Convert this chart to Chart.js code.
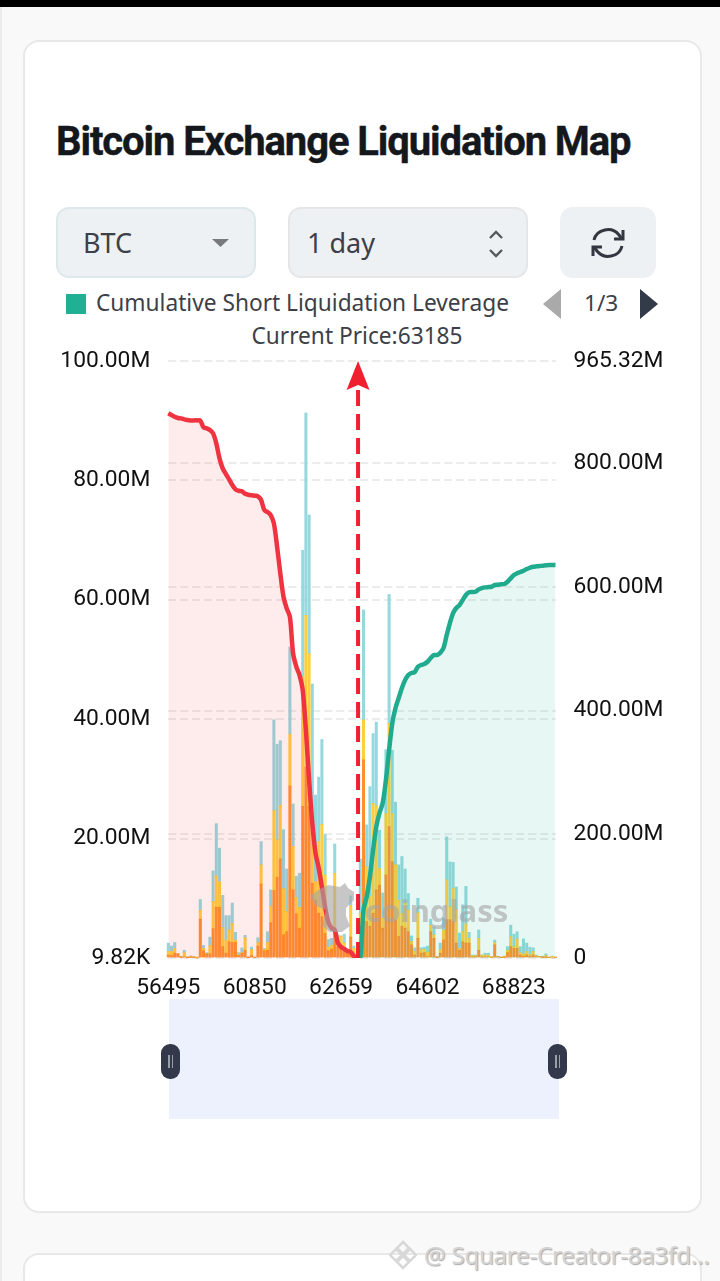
<!DOCTYPE html>
<html>
<head>
<meta charset="utf-8">
<title>Bitcoin Exchange Liquidation Map</title>
<script src="https://cdn.jsdelivr.net/npm/chart.js@4/dist/chart.umd.min.js"></script>
<style>
  html, body { margin: 0; padding: 0; }
  body { width: 720px; height: 1281px; position: relative; overflow: hidden; background: #f9f9f9; font-family: "Noto Sans", sans-serif; }
  .abs { position: absolute; }
  .topbar { left: 0; top: 0; width: 720px; height: 7px; background: #000; }
  .edge { left: 0; top: 7px; width: 2px; height: 1274px; background: #ececec; }
  .card { left: 23px; width: 675px; background: #fff; border: 2px solid #e8e8e8; border-radius: 16px; }
  h1 { position: absolute; left: 56px; top: 118px; margin: 0; font: 700 40px/48px Roboto, sans-serif; letter-spacing: -1.1px; -webkit-text-stroke: .4px #14181c; color: #14181c; white-space: nowrap; }
  .btn { background: #eef1f4; border-radius: 13px; box-sizing: border-box; top: 207px; height: 71px; font-size: 27px; line-height: 67px; color: #3c4048; }
  .legend-text { left: 96px; top: 288px; font-size: 22.7px; line-height: 30px; color: #3c4048; white-space: nowrap; }
  #chart { position: absolute; left: 0; top: 340px; }
  .slider { left: 169px; top: 999px; width: 390px; height: 120px; background: #edf1fd; }
  .handle { top: 1044px; width: 19px; height: 35px; background: #33384a; border-radius: 9px; }
  .handle i { position: absolute; top: 11px; width: 1.5px; height: 13px; background: #9a9ea8; }
  .wm { left: 365px; top: 888px; font: 700 31px/44px "Noto Sans", sans-serif; color: rgba(165,165,165,.62); }
  .footer { left: 424px; top: 1238px; font-size: 24px; line-height: 34px; color: #d4d4d4; text-shadow: 1px 1px 1px #aaa; white-space: nowrap; letter-spacing: -.2px; }
</style>
</head>
<body>
<div class="abs topbar"></div>
<div class="abs edge"></div>
<div class="abs card" style="top:40px;height:1169px"></div>
<div class="abs card" style="top:1253px;height:60px"></div>

<h1>Bitcoin Exchange Liquidation Map</h1>

<div class="abs btn" style="left:56px;width:200px;border:2px solid #dce8ec;padding-left:25px">BTC
  <svg class="abs" style="left:154px;top:30px" width="18" height="9"><path d="M0 0H17L8.500 8Z" fill="#77797d"/></svg>
</div>
<div class="abs btn" style="left:288px;width:240px;border:2px solid #e6e6e6;padding-left:17px">1 day
  <svg class="abs" style="left:198px;top:21px" width="18" height="28"><path d="M2 8L8 2L14 8M2 20L8 26L14 20" fill="none" stroke="#55585e" stroke-width="2.400"/></svg>
</div>
<div class="abs btn" style="left:560px;width:96px">
  <svg class="abs" style="left:30px;top:19px" width="36" height="34" viewBox="0 0 36 34" fill="none" stroke="#33373f" stroke-width="3">
    <path d="M4 14A14 13 0 0 1 29 9L32 13"/><path d="M32 20A14 13 0 0 1 7 25L4 21"/>
    <path d="M33 4V13H24M3 30V21H12"/>
  </svg>
</div>

<div class="abs" style="left:66px;top:294px;width:20px;height:20px;background:#20b093"></div>
<div class="abs legend-text">Cumulative Short Liquidation Leverage</div>
<svg class="abs" style="left:543px;top:289px" width="18" height="30"><path d="M18 0V30L0 15Z" fill="#aaaaaa"/></svg>
<div class="abs" style="left:584px;top:288px;font-size:22.6px;line-height:30px;color:#3c4048">1/3</div>
<svg class="abs" style="left:640px;top:289px" width="18" height="30"><path d="M0 0V30L18 15Z" fill="#333a48"/></svg>
<div class="abs" style="left:157px;width:400px;text-align:center;top:321px;font-size:22.7px;line-height:30px;color:#3c4048">Current Price:63185</div>

<canvas id="chart" width="720" height="660" style="width:720px;height:660px"></canvas>

<svg class="abs" style="left:308px;top:882px" width="48" height="56" viewBox="0 0 48 56">
  <path d="M2 14L10 8L20 3L32 5L37 1L40 6L46 10L46 18L38 26L38 34L42 44L34 50L22 50L14 44L16 36L18 28L8 24Z" fill="rgba(165,165,165,.62)"/>
</svg>
<div class="abs wm">coinglass</div>

<div class="abs slider"></div>
<div class="abs handle" style="left:161px"><i style="left:7px"></i><i style="left:10.500px"></i></div>
<div class="abs handle" style="left:548px"><i style="left:7px"></i><i style="left:10.500px"></i></div>

<svg class="abs" style="left:389px;top:1240px" width="28" height="30" viewBox="0 0 28 30" fill="none" stroke="#d8d8d8" stroke-width="2.500">
  <path d="M14 2L20 8L14 14L8 8ZM7 9L13 15L7 21L1 15ZM21 9L27 15L21 21L15 15ZM14 16L20 22L14 28L8 22Z"/>
</svg>
<div class="abs footer">@ Square-Creator-8a3fd...</div>

<script>
const tickLabels = ["56495", "60850", "62659", "64602", "68823"];
const tickStep = 27;
const leftTicks = [0, 20, 40, 60, 80, 100];
const leftLabels = ["9.82K", "20.00M", "40.00M", "60.00M", "80.00M", "100.00M"];
const rightTicks = [0, 200, 400, 600, 800, 965.32];
const rightLabels = ["0", "200.00M", "400.00M", "600.00M", "800.00M", "965.32M"];
const currentPriceSlot = 59.3;

// liquidation leverage per price bucket, in millions
const orangeValues = [
  0.5, 0.4, 0.8, 0.7, 0.1, 0.2, 0.05, 0.1, 0.1, 0, 6.5, 1.2, 0.7, 0.7, 4.9, 8.5, 8.5, 1.9, 0.8, 2.7,
  2.6, 2.6, 0.4, 0.8, 1.3, 0.05, 0.4, 0.1, 2.0, 12.4, 1.2, 1.3, 5.9, 11.3, 13.5, 16.6, 3.9, 4.4, 28.8, 11.4,
  7.4, 5.0, 25.4, 32.0, 25.4, 12.5, 9.7, 7.5, 6.9, 4.1, 1.2, 1.5, 4.7, 1.9, 1.6, 1.1, 0.8, 3.5, 0.5, 0.6,
  0.8, 33.2, 6.1, 5.3, 7.5, 11.4, 12.2, 5.0, 13.9, 22.0, 16.1, 6.4, 3.6, 5.3, 5.0, 4.4, 2.2, 0.5, 3.3, 0.8,
  0.9, 0.2, 4.4, 3.3, 0.1, 0.8, 3.0, 6.4, 6.4, 6.1, 2.5, 1.3, 2.7, 2.5, 2.5, 0.2, 0.2, 1.3, 0.2, 0.2,
  0.2, 0.1, 2.2, 0.2, 0.05, 0.1, 0.9, 1.9, 1.6, 1.6, 0.5, 0.3, 0.5, 0.3, 0.5, 0.2, 0.2, 0.1, 0.1, 0.1,
  0, 0.1
];
const yellowValues = [
  0.6, 0.7, 0.8, 0, 0.1, 0.7, 0.05, 0.2, 0.1, 0.05, 1.5, 0.4, 0, 1.4, 4.6, 5.3, 4.3, 3.2, 2.2, 2.0,
  3.2, 0.4, 0.1, 0.1, 2.1, 0.05, 1.0, 0, 0.6, 3.2, 0.2, 1.3, 2.8, 13.4, 6.3, 9.0, 7.7, 3.4, 8.7, 7.3,
  2.8, 3.5, 21.7, 25.4, 25.6, 10.6, 3.1, 12.0, 15.5, 9.8, 0.6, 0.6, 9.5, 1.6, 2.1, 1.4, 0.3, 5.3, 1.1, 0.2,
  6.7, 6.7, 9.2, 5.0, 18.4, 14.1, 2.8, 1.7, 10.3, 17.3, 8.1, 9.2, 6.1, 2.2, 4.2, 3.6, 0.6, 0.6, 4.3, 0.6,
  0.6, 0.8, 1.1, 0.6, 0.1, 0.6, 1.7, 6.7, 2.2, 5.6, 5.6, 0.3, 1.7, 3.2, 0.8, 0.2, 0.2, 2.0, 0.3, 0.3,
  0.3, 0.05, 0.4, 0.05, 0.02, 0.2, 0.4, 1.7, 0.3, 1.6, 0.4, 0.4, 0.6, 0.3, 0.6, 0.2, 0.05, 0.1, 0.3, 0,
  0.3, 0
];
const tealValues = [
  1.4, 0.9, 1.0, 0, 0.1, 0.4, 0.05, 0.05, 0, 0, 1.8, 0.5, 0.2, 1.4, 5.1, 8.7, 5.6, 5.4, 4.1, 2.4,
  3.4, 1.3, 0.4, 0.8, 0.4, 0.05, 0.4, 0, 0.8, 3.9, 0.2, 1.8, 2.7, 15.2, 16.0, 10.8, 9.9, 7.1, 14.6, 7.1,
  3.5, 5.7, 21.2, 33.9, 23.2, 22.8, 14.5, 10.8, 14.2, 6.8, 1.3, 1.2, 4.9, 0.4, 0, 1.5, 0.3, 1.6, 0.4, 0.1,
  9.1, 18.4, 7.0, 18.4, 11.7, 14.0, 6.4, 4.2, 10.7, 21.6, 10.6, 10.5, 5.9, 9.5, 5.7, 2.8, 0.9, 0.6, 2.4, 0.3,
  0.3, 1.0, 1.0, 1.3, 0.05, 1.1, 2.0, 7.2, 7.5, 4.3, 3.8, 2.6, 4.5, 6.3, 1.0, 0.1, 0.1, 1.4, 0, 0.3,
  0.3, 0, 0.4, 0.05, 0, 0, 0.6, 1.9, 2.1, 1.2, 1.0, 2.5, 1.4, 1.2, 0.6, 0.1, 0, 0.1, 0.3, 0,
  0, 0
];

// cumulative long side, running down towards the current price
const cumulativeLong = [
  880.7, 877.9, 875.2, 873.1, 872.6, 871.0, 869.8, 869.3, 869.3, 869.3, 868.7, 858.0, 856.4, 853.7, 848.3,
  832.2, 807.9, 791.7, 782.5, 774.0, 764.7, 757.8, 755.5, 754.6, 750.7, 749.0, 748.1, 747.4, 746.5, 740.5,
  724.3, 721.1, 716.2, 702.8, 665.0, 622.0, 584.1, 565.4, 551.8, 492.6, 471.0, 457.5, 433.3, 368.6, 287.8,
  218.3, 169.8, 145.5, 114.8, 82.5, 58.2, 48.5, 45.3, 24.3, 17.8, 14.6, 11.3, 9.7, 3.2, 0
];
// cumulative short side, starts at the current price
const cumulativeShort = [
  0, 0, 77.6, 99.1, 131.4, 174.6, 212.3, 234.4, 250.6, 287.8, 336.3, 379.9, 404.2, 420.4, 436.5, 449.5,
  457.5, 460.8, 462.4, 471.0, 473.7, 475.3, 479.0, 485.0, 489.9, 489.9, 493.6, 501.2, 522.2, 541.6, 557.8,
  565.9, 570.7, 578.8, 586.9, 591.3, 591.7, 592.2, 596.1, 598.2, 599.3, 599.8, 600.3, 603.1, 603.5, 604.2,
  604.7, 608.4, 613.9, 619.2, 622.0, 624.1, 626.2, 628.9, 631.0, 632.7, 633.3, 633.8, 634.3, 634.9, 635.4,
  635.4, 635.4
];

const categories = orangeValues.map((v, i) => (i % tickStep == 0 ? tickLabels[i / tickStep] : ""));
const shortData = Array(categories.length - cumulativeShort.length).fill(null).concat(cumulativeShort);

// red dashed arrow at the current price
const priceArrow = {
  id: "priceArrow",
  afterDatasetsDraw(chart) {
    const c = chart.ctx;
    const x = chart.scales.x.getPixelForValue(currentPriceSlot);
    const top = chart.scales.y.getPixelForValue(100);
    const bottom = chart.scales.y.getPixelForValue(0);
    c.save();
    c.strokeStyle = "#f0202f";
    c.fillStyle = "#f0202f";
    c.lineWidth = 4;
    c.setLineDash([16, 8]);
    c.beginPath();
    c.moveTo(x, bottom);
    c.lineTo(x, top + 20);
    c.stroke();
    c.beginPath();
    c.moveTo(x, top);
    c.lineTo(x + 11.5, top + 29);
    c.lineTo(x, top + 24);
    c.lineTo(x - 11.5, top + 29);
    c.closePath();
    c.fill();
    c.restore();
  },
};

const barSet = (label, values, color) => ({
  type: "bar",
  label: label,
  data: values,
  backgroundColor: color,
  barThickness: 2.4,
  stack: "liq",
  yAxisID: "y",
  order: 3,
  clip: false,
});

const tickFont = { family: "Roboto", size: 22.8 };

// tick padding also pads the top of a vertical scale, so fix the axis boxes by hand
const fitAxis = (width) => (scale) => {
  scale.width = width;
  scale.paddingTop = 0;
  scale.paddingBottom = 0;
};

new Chart(document.getElementById("chart"), {
  data: {
    labels: categories,
    datasets: [
      {
        type: "line",
        label: "Cumulative Short Liquidation Leverage",
        data: shortData,
        yAxisID: "y2",
        borderColor: "#20ab8f",
        borderWidth: 4.5,
        backgroundColor: "rgba(32,178,150,0.11)",
        fill: "origin",
        pointRadius: 0,
        tension: 0.3,
        order: 1,
      },
      {
        type: "line",
        label: "Cumulative Long Liquidation Leverage",
        data: cumulativeLong,
        yAxisID: "y2",
        borderColor: "#ef3340",
        borderWidth: 4.5,
        backgroundColor: "rgba(242,54,69,0.1)",
        fill: "origin",
        pointRadius: 0,
        tension: 0.3,
        order: 2,
      },
      barSet("Orange", orangeValues, "rgba(255,127,10,0.86)"),
      barSet("Yellow", yellowValues, "rgba(255,198,31,0.86)"),
      barSet("Teal", tealValues, "rgba(140,214,220,0.92)"),
    ],
  },
  options: {
    responsive: false,
    animation: false,
    devicePixelRatio: 1,
    layout: { padding: { top: 21, bottom: 0, left: 0, right: 0 } },
    plugins: { legend: { display: false }, tooltip: { enabled: false } },
    scales: {
      x: {
        offset: false,
        stacked: true,
        grid: { display: false },
        border: { display: false },
        ticks: {
          autoSkip: false,
          maxRotation: 0,
          color: "#111",
          font: tickFont,
          padding: 9,
          callback: function (value) {
            return categories[value];
          },
        },
        afterFit(scale) {
          scale.height = 42;
        },
      },
      y: {
        position: "left",
        stacked: true,
        min: 0,
        max: 100,
        border: { display: false, dash: [8, 4] },
        grid: { color: "#ececec", lineWidth: 2, drawTicks: false },
        ticks: {
          color: "#111",
          font: tickFont,
          padding: 18,
          callback: function (value) {
            return leftLabels[leftTicks.indexOf(value)];
          },
        },
        afterBuildTicks(scale) {
          scale.ticks = leftTicks.map((v) => ({ value: v }));
        },
        afterFit: fitAxis(168.3),
      },
      y2: {
        position: "right",
        min: 0,
        max: 965.32,
        border: { display: false, dash: [8, 4] },
        grid: { color: "#ececec", lineWidth: 2, drawTicks: false },
        ticks: {
          color: "#111",
          font: tickFont,
          padding: 18,
          callback: function (value) {
            return rightLabels[rightTicks.indexOf(value)];
          },
        },
        afterBuildTicks(scale) {
          scale.ticks = rightTicks.map((v) => ({ value: v }));
        },
        afterFit: fitAxis(164.5),
      },
    },
  },
  plugins: [priceArrow],
});
</script>
</body>
</html>
